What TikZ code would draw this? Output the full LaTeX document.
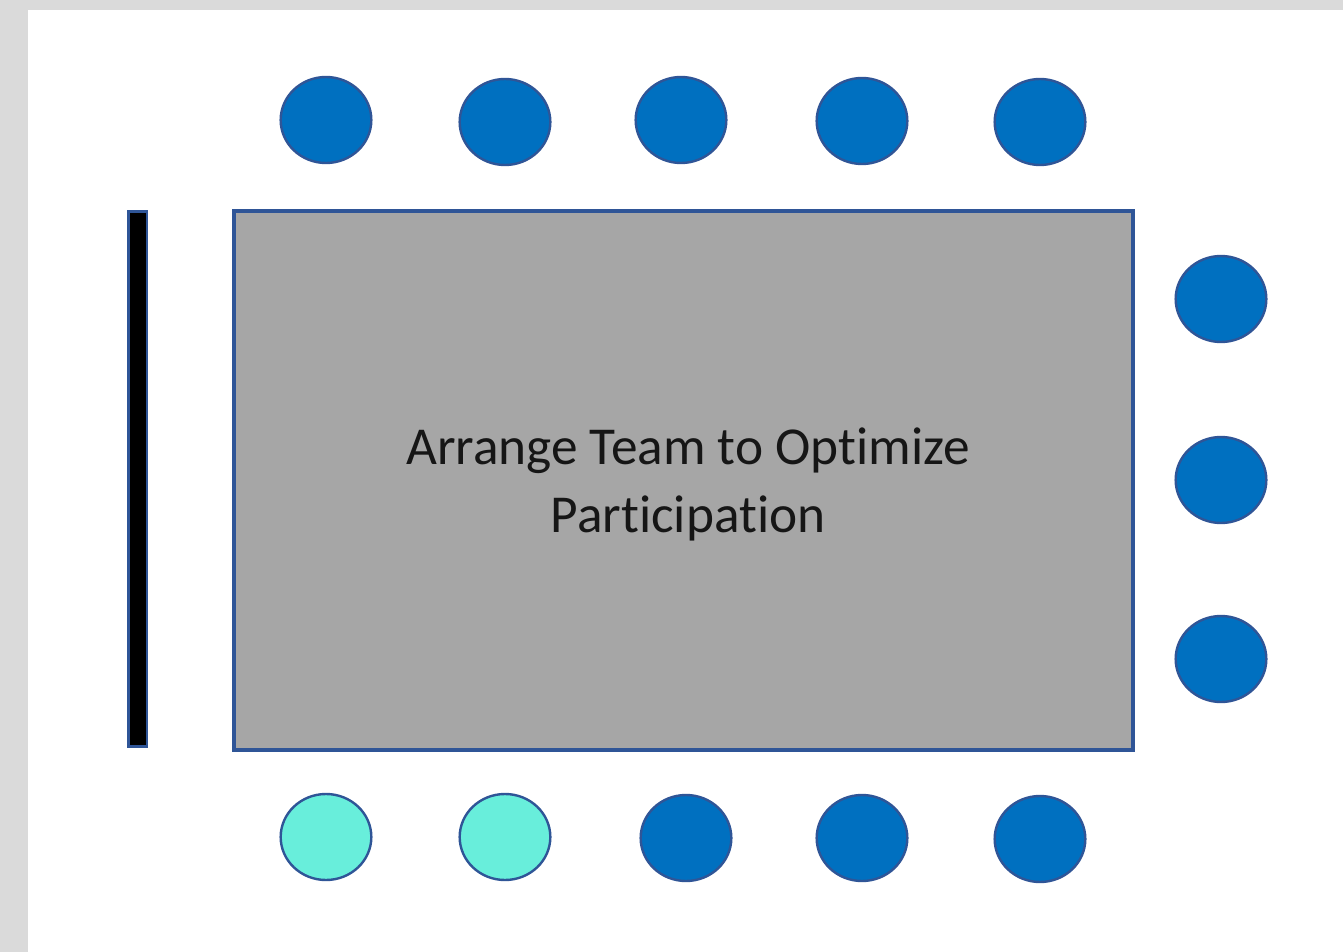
\documentclass[tikz,border=0pt]{standalone}
\usepackage{fontspec}
\setmainfont{Carlito}[Ligatures=NoCommon]
\usetikzlibrary{shapes.geometric}
\definecolor{seatblue}{HTML}{0070C0}
\definecolor{seatcyan}{HTML}{68EEDB}
\definecolor{edgeblue}{HTML}{2F5597}
\definecolor{tablegray}{HTML}{A6A6A6}
\definecolor{bggray}{HTML}{DADADA}
\definecolor{txt}{HTML}{161616}
\tikzset{
  seat/.style={ellipse, draw=edgeblue, line width=1.8pt, fill=seatblue,
    minimum width=68pt, minimum height=64.5pt, inner sep=0pt},
  guest/.style={seat, fill=seatcyan},
  tablebox/.style={draw=edgeblue, line width=2.6pt, fill=tablegray,
    minimum width=674pt, minimum height=404pt, inner sep=0pt},
  board/.style={draw=edgeblue, line width=2pt, fill=black,
    minimum width=14pt, minimum height=401pt, inner sep=0pt},
  caption/.style={align=center, text=txt, font=\fontsize{40}{51}\selectfont, inner sep=0pt}
}
\begin{document}
\begin{tikzpicture}[x=0.75pt, y=-0.75pt]
\useasboundingbox (0,0) rectangle (1343,952);
\fill[bggray] (0,0) rectangle (1343,952);
\fill[white] (28,10) rectangle (1343,952);
% table and board
\node[tablebox] (table) at (683.5,480.5) {};
\node[caption] (title) at (688,484) {Arrange Team to Optimize\\Participation};
\node[board] (board) at (137.5,479) {};
% top seats
\node[seat] (t1) at (326,120) {};
\node[seat] (t2) at (505,122) {};
\node[seat] (t3) at (681,120) {};
\node[seat] (t4) at (862,121) {};
\node[seat] (t5) at (1040,122) {};
% right seats
\node[seat] (r1) at (1221,299) {};
\node[seat] (r2) at (1221,480) {};
\node[seat] (r3) at (1221,659) {};
% bottom seats
\node[guest] (b1) at (326,837) {};
\node[guest] (b2) at (505,837) {};
\node[seat] (b3) at (686,838) {};
\node[seat] (b4) at (862,838) {};
\node[seat] (b5) at (1040,839) {};
\end{tikzpicture}
\end{document}
